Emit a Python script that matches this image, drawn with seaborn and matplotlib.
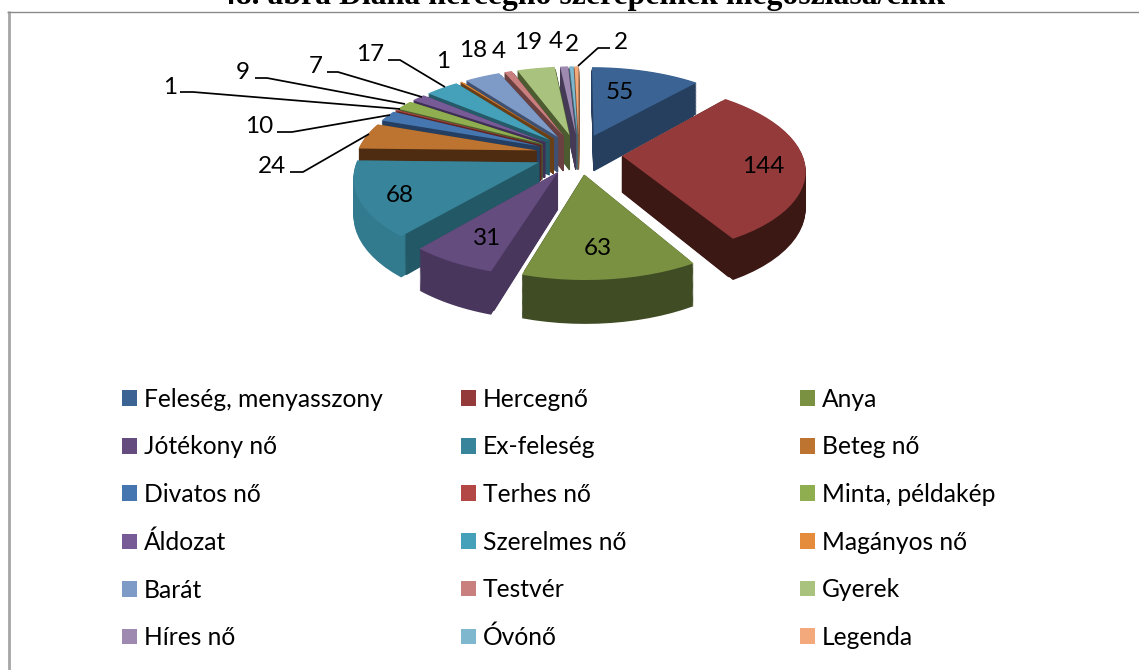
import numpy as np
import matplotlib
matplotlib.use("Agg")
import matplotlib.pyplot as plt
from matplotlib.path import Path
from matplotlib.patches import Patch
from matplotlib.transforms import Transform
import seaborn as sns

categories = ["Feleség, menyasszony", "Hercegnő", "Anya", "Jótékony nő", "Ex-feleség", "Beteg nő",
              "Divatos nő", "Terhes nő", "Minta, példakép", "Áldozat", "Szerelmes nő", "Magányos nő",
              "Barát", "Testvér", "Gyerek", "Híres nő", "Óvónő", "Legenda"]
values = [55, 144, 63, 31, 68, 24, 10, 1, 9, 7, 17, 1, 18, 4, 19, 4, 2, 2]
top_colors = ["#3b6494", "#953a3a", "#7a9142", "#644c7f", "#38849b", "#bd7431",
              "#4676b0", "#b24745", "#8eae4f", "#775b97", "#45a0b9", "#e58b3c",
              "#7e9bc8", "#ca7f7f", "#a9c37f", "#9e8ab0", "#7fb8ce", "#f4a97c"]
cut_colors = ["#273f5f", "#3c1815", "#3f4a22", "#48365d", "#235866", "#4e2c12",
              "#243f62", "#5e2422", "#4c5c2c", "#3f2f55", "#255a68", "#6a3f16",
              "#3f5070", "#6a4040", "#4c5c30", "#453a55", "#3f6a78", "#8a5c3c"]
rim_colors = ["#273f5f", "#3c1815", "#404c24", "#48365d", "#327a8e", "#4e2c12",
              "#243f62", "#5e2422", "#4c5c2c", "#3f2f55", "#255a68", "#6a3f16",
              "#3f5070", "#6a4040", "#4c5c30", "#453a55", "#3f6a78", "#8a5c3c"]
inside_labels = {0: (620, 91), 1: (763, 165), 2: (598, 247), 3: (487, 237), 4: (400, 194)}
outside_labels = {5: (272, 165), 6: (259, 125), 7: (170, 86), 8: (243, 71), 9: (316, 65), 10: (370, 53),
                  11: (443, 60), 12: (473, 49), 13: (499, 50), 14: (528, 41), 15: (556, 40),
                  16: (572, 43), 17: (621, 41)}
leaders = {5: [(290, 172), (303, 172), (369, 134)], 6: [(277, 132), (292, 132), (390, 115)],
           7: [(180, 92), (193, 92), (400, 109)], 8: [(255, 78), (267, 78), (405, 104)],
           9: [(327, 72), (338, 72), (422, 97)], 10: [(388, 60), (400, 60), (445, 87)],
           17: [(610, 48), (598, 48), (578, 66)]}
legend_cols = [(112, 0), (451, 1), (790, 2)]

CX, CY, RX, RY, K, DEPTH = 579, 154, 180, 83.5, 0.145, 36
EXPLODE = 0.24


class Perspective(Transform):
    input_dims = output_dims = 2
    has_inverse = False
    is_separable = False

    def __init__(self, z):
        super().__init__()
        self.z = z

    def transform_non_affine(self, pts):
        pts = np.asarray(pts, float)
        s = 1 / (1 + K * pts[:, 1])
        return np.column_stack([CX + RX * pts[:, 0] * s,
                                CY + (self.z * DEPTH - RY * pts[:, 1]) * s])

    def transform_path_non_affine(self, path):
        # Sample the wedge's curves finely so its arc stays round after projection.
        pieces = []
        for seg, code in path.iter_bezier():
            if code == Path.MOVETO:
                continue
            pieces.append(seg(np.linspace(0, 1, 8)))
        poly = np.vstack(pieces)
        return Path(self.transform_non_affine(poly), closed=True)


sns.set_theme(style="white")
plt.rcParams["font.family"] = ["Lato", "DejaVu Sans"]
top_pal = sns.color_palette(top_colors)
fig, ax = plt.subplots(figsize=(11.39, 6.70), dpi=100)
ax.set_position([0, 0, 1, 1])


def layer(z, colors, radius, order, edge=0.0):
    wedges, _ = ax.pie(values, colors=colors, explode=[EXPLODE] * len(values), startangle=90,
                       counterclock=False, radius=radius, normalize=True,
                       wedgeprops={"zorder": order})
    for w in wedges:
        w.set_transform(Perspective(z) + ax.transData)
        w.set_edgecolor(w.get_facecolor())
        w.set_linewidth(edge)


for i, z in enumerate(np.linspace(1, 0.02, 40)):
    layer(z, rim_colors, 1.0, 1 + i * 0.01)
    layer(z, cut_colors, 0.965, 1.002 + i * 0.01, edge=0.9)
layer(0, top_pal, 1.0, 2)

ax.set_aspect("auto")
ax.set_xlim(0, 1139)
ax.set_ylim(670, 0)
ax.axis("off")

for i, (x, y) in {**inside_labels, **outside_labels}.items():
    ax.text(x, y + 1.5, str(values[i]), fontsize=17.5, color="black", ha="center", va="center", zorder=5)
for i, pts in leaders.items():
    xs, ys = zip(*pts)
    ax.plot(xs, ys, color="black", lw=1.25, zorder=5, solid_capstyle="butt")

for x0, k in legend_cols:
    idx = list(range(k, len(values), 3))
    handles = [Patch(facecolor=top_pal[i], edgecolor="none", label=categories[i]) for i in idx]
    leg = ax.legend(handles=handles, loc="upper left", bbox_to_anchor=(x0, 378), bbox_transform=ax.transData,
                    frameon=False, fontsize=17.7, labelspacing=1.0, handlelength=0.61, handleheight=0.61,
                    handletextpad=0.285, borderpad=0.4, borderaxespad=0)
    for t in leg.get_texts():
        t.set_color("black")
    ax.add_artist(leg)
    ax.legend_ = None

ax.plot([8.5, 8.5], [11, 670], color="#a6a6a6", lw=2.0, zorder=6, solid_capstyle="butt")
ax.plot([7, 1139], [11.5, 11.5], color="#8a8a8a", lw=1.0, zorder=6, solid_capstyle="butt")
ax.text(583, 4, "48. ábra Diana hercegnő szerepeinek megoszlása/cikk", family="Liberation Serif",
        fontweight="bold", fontsize=22.9, color="black", ha="center", va="baseline", zorder=7)

fig.savefig("out.png", dpi=100)
